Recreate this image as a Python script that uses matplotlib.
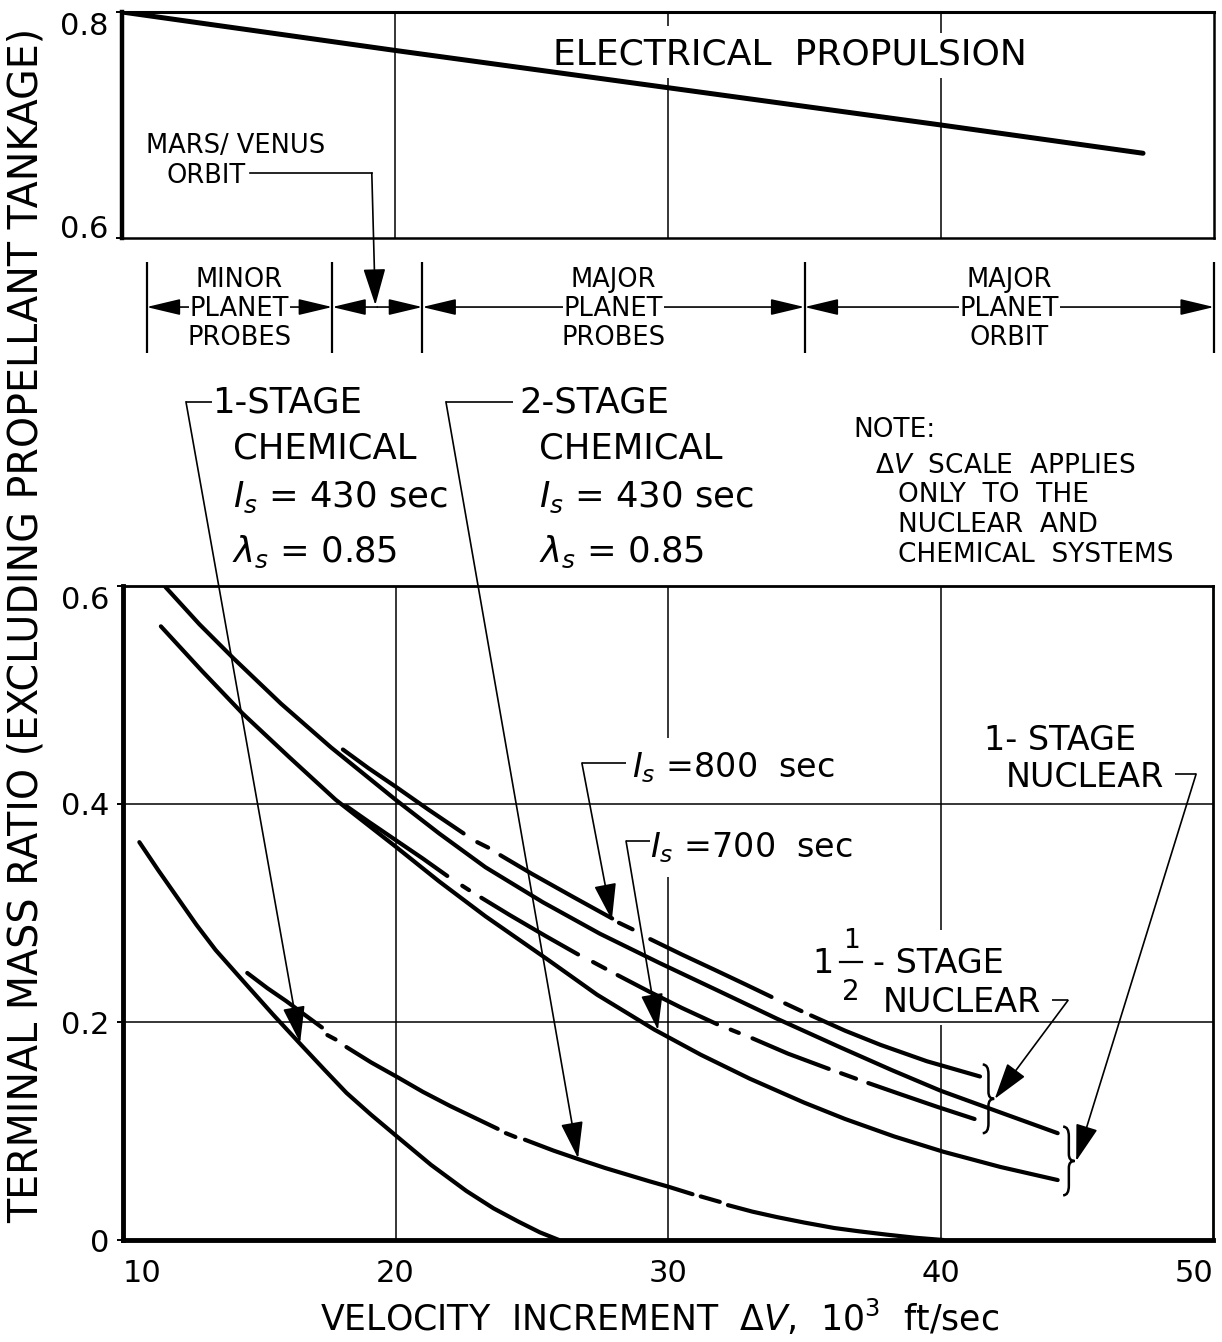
import matplotlib
matplotlib.use("Agg")
import matplotlib.pyplot as plt
import numpy as np
from matplotlib.path import Path
from matplotlib.patches import PathPatch

nan = np.nan

# top panel: electrical propulsion
elec_dv = [10, 20, 30, 40, 47.4]
elec_ratio = [0.800, 0.766, 0.733, 0.700, 0.675]

# mission delta-V bands (10^3 ft/sec)
band_edges = [10.9, 17.7, 21.0, 35.0, 50.0]
band_labels = [["MINOR", "PLANET", "PROBES"], None,
               ["MAJOR", "PLANET", "PROBES"], ["MAJOR", "PLANET", "ORBIT"]]

# 1-stage chemical
chem1_dv = [10.6, 11.3, 12.0, 12.7, 13.4, 14.5, 15.5, 16.5, 17.4, 18.2, 19.1, 20.1,
            21.3, 22.6, 23.6, 24.5, 25.3, 26.0]
chem1_ratio = [0.365, 0.339, 0.314, 0.289, 0.266, 0.235, 0.207, 0.180, 0.156, 0.135, 0.115, 0.094,
               0.069, 0.045, 0.029, 0.017, 0.007, 0.0]

# 2-stage chemical (nan = gap of the dash-dot part)
chem2_dv = [14.56, 15.3, 16.0, 16.7, 17.3, nan, 17.5, 17.8, nan,
            18.2, 19.1, 20.1, 21.0, 22.0, 23.0, 23.75, nan, 24.05, 24.4, nan,
            24.75, 25.8, 26.85, 27.7, 28.5, 29.3, 30.0, 30.9, nan, 31.2, 31.9, nan,
            32.2, 33.1, 34.0, 35.0, 36.1, 37.0, 38.0, 39.1, 40.1]
chem2_ratio = [0.245, 0.231, 0.219, 0.206, 0.195, nan, 0.188, 0.184, nan,
               0.177, 0.163, 0.149, 0.136, 0.123, 0.111, 0.102, nan, 0.098, 0.0945, nan,
               0.092, 0.082, 0.073, 0.066, 0.060, 0.054, 0.049, 0.042, nan, 0.040, 0.035, nan,
               0.032, 0.026, 0.021, 0.016, 0.011, 0.008, 0.005, 0.002, 0.0]

# 1-stage nuclear
nuc1_800_dv = [11.56, 12.8, 14.04, 15.8, 17.63, 20.0, 21.6, 23.3, 25.4, 27.5, 29.7,
               31.9, 34.0, 36.3, 38.2, 40.0, 42.2, 44.3]
nuc1_800_ratio = [0.599, 0.565, 0.534, 0.492, 0.452, 0.404, 0.373, 0.342, 0.310, 0.281, 0.254,
                  0.228, 0.203, 0.177, 0.156, 0.137, 0.117, 0.098]
nuc1_700_dv = [11.39, 12.9, 14.39, 16.1, 17.8, 20.0, 21.6, 23.3, 25.6, 27.4, 29.5, 31.2,
               33.0, 35.0, 36.5, 38.3, 40.1, 42.2, 44.3]
nuc1_700_ratio = [0.563, 0.522, 0.483, 0.443, 0.404, 0.361, 0.329, 0.297, 0.257, 0.225, 0.193, 0.170,
                  0.148, 0.126, 0.111, 0.095, 0.081, 0.067, 0.055]

# 1 1/2-stage nuclear (dash-dot)
nuc15_800_dv = [18.07, 19.0, 20.0, 21.2, 22.5, nan, 23.0, 23.4, nan, 23.85, 25.0, 26.5, 27.95, nan,
                28.2, 28.7, nan, 29.35, 30.5, 31.7, 32.8, 33.8, nan, 34.3, 34.9, nan,
                35.25, 36.5, 37.8, 39.5, 41.45]
nuc15_800_ratio = [0.450, 0.433, 0.416, 0.395, 0.373, nan, 0.365, 0.360, nan, 0.353, 0.336, 0.315, 0.295, nan,
                   0.291, 0.285, nan, 0.276, 0.262, 0.248, 0.235, 0.223, nan, 0.217, 0.210, nan,
                   0.206, 0.192, 0.179, 0.164, 0.150]
nuc15_700_dv = [18.2, 19.0, 20.0, 21.0, 21.9, nan, 22.45, 22.7, nan, 23.15, 24.2, 25.5, 26.7, nan,
                27.25, 27.7, nan, 28.15, 29.3, 30.5, 31.8, nan, 32.3, 32.6, nan, 33.1, 34.4, 35.9, nan,
                36.35, 36.9, nan, 37.35, 38.5, 39.9, 41.25]
nuc15_700_ratio = [0.398, 0.384, 0.367, 0.350, 0.334, nan, 0.325, 0.321, nan, 0.314, 0.298, 0.279, 0.262, nan,
                   0.255, 0.249, nan, 0.243, 0.228, 0.213, 0.198, nan, 0.193, 0.190, nan, 0.185, 0.171, 0.157, nan,
                   0.153, 0.148, nan, 0.144, 0.134, 0.122, 0.111]

x_ticks = [10, 20, 30, 40, 50]
y_ticks = [0, 0.2, 0.4, 0.6]
y_ticks_top = [0.6, 0.8]

plt.rcParams["font.family"] = ["DejaVu Sans"]
plt.rcParams["mathtext.fontset"] = "dejavusans"

BIG = 25.5
MID = 24
SMALL = 19
LW_CURVE = 3.0
LW_THIN = 1.2
ARROW = dict(arrowstyle="-|>,head_length=2.3,head_width=0.7", mutation_scale=10,
             lw=LW_THIN, color="k", shrinkA=0, shrinkB=0)
BAND_ARROW = dict(arrowstyle="-|>,head_length=2.1,head_width=0.5", mutation_scale=10,
                  lw=LW_THIN, color="k", shrinkA=0, shrinkB=0)

fig = plt.figure(figsize=(12.22, 13.42), dpi=100)
ax_top = fig.add_axes([122/1222, 1-238/1342, (1214-122)/1222, 226/1342])
ax = fig.add_axes([123/1222, 1-1240/1342, (1213-123)/1222, 654/1342])


def leader(a, pts, tip):
    """polyline from label then arrow to tip"""
    xs = [p[0] for p in pts]
    ys = [p[1] for p in pts]
    a.plot(xs, ys, color="k", lw=LW_THIN, clip_on=False, solid_capstyle="butt")
    a.annotate("", xy=tip, xytext=pts[-1], arrowprops=ARROW, annotation_clip=False)


def brace(a, x, y0, y1, w):
    ym = (y0 + y1) / 2
    h = y1 - y0
    xm = x + w * 0.5
    verts = [(x, y1), (xm, y1), (xm, y1 - h * 0.14), (xm, ym + h * 0.1), (xm, ym), (x + w, ym),
             (xm, ym), (xm, ym - h * 0.1), (xm, y0 + h * 0.14), (xm, y0), (x, y0)]
    codes = [Path.MOVETO, Path.CURVE3, Path.CURVE3, Path.LINETO, Path.CURVE3, Path.CURVE3,
             Path.CURVE3, Path.CURVE3, Path.LINETO, Path.CURVE3, Path.CURVE3]
    a.add_patch(PathPatch(Path(verts, codes), fill=False, lw=1.8, color="k", clip_on=False))


# ---------------- top panel ----------------
ax_top.set_xlim(10, 50)
ax_top.set_ylim(0.6, 0.8)
# grid, 30 and 40 lines broken behind the title text
ax_top.vlines([20, 30, 30, 40, 40], [0.6, 0.6, 0.788, 0.6, 0.781], [0.8, 0.742, 0.8, 0.742, 0.8],
              color="k", lw=1.1, zorder=1)
ax_top.plot(elec_dv, elec_ratio, color="k", lw=3.6, solid_capstyle="round", zorder=3)
ax_top.text(34.48, 0.7531, "ELECTRICAL  PROPULSION", fontsize=26, ha="center", va="baseline",
            zorder=4)
ax_top.set_xticks([])
ax_top.set_yticks(y_ticks_top)
ax_top.set_yticklabels(["0.6", "0.8"])
tl = ax_top.get_yticklabels()
tl[0].set_va("baseline")
tl[1].set_va("top")
for s, w in zip(["left", "top", "right", "bottom"], [3.2, 2.2, 1.8, 1.8]):
    ax_top.spines[s].set_linewidth(w)

# mars / venus pointer
ax_top.text(14.15, 0.6752, "MARS/ VENUS", fontsize=18.5, ha="center", va="baseline")
ax_top.text(13.07, 0.6487, "ORBIT", fontsize=18.5, ha="center", va="baseline")
ax_top.plot([14.7, 19.15], [0.6575, 0.6575], color="k", lw=LW_THIN, clip_on=False)
ax_top.annotate("", xy=(19.28, 0.5407), xytext=(19.15, 0.6575), arrowprops=ARROW,
                annotation_clip=False)

# mission bands
band_y = 0.5389
ax_top.vlines(band_edges, 0.4982, 0.5788, color="k", lw=1.6, clip_on=False)
for i in range(len(band_edges) - 1):
    a0, a1 = band_edges[i], band_edges[i + 1]
    mid = (a0 + a1) / 2
    ax_top.annotate("", xy=(a0, band_y), xytext=(mid, band_y), arrowprops=BAND_ARROW,
                    annotation_clip=False)
    ax_top.annotate("", xy=(a1, band_y), xytext=(mid, band_y), arrowprops=BAND_ARROW,
                    annotation_clip=False)
    lab = band_labels[i]
    if lab:
        ax_top.text(mid, 0.5566, lab[0], fontsize=18.5, ha="center", va="baseline")
        ax_top.text(mid, 0.5310, lab[1], fontsize=18.5, ha="center", va="baseline", zorder=5,
                    bbox=dict(facecolor="white", edgecolor="none", pad=0.5))
        ax_top.text(mid, 0.5053, lab[2], fontsize=18.5, ha="center", va="baseline")

# ---------------- bottom panel ----------------
ax.set_xlim(10, 50)
ax.set_ylim(0, 0.6)
ax.vlines(20, 0, 0.6, color="k", lw=1.1, zorder=1)
ax.vlines([30, 30, 40, 40], [0, 0.461, 0, 0.284], [0.333, 0.6, 0.197, 0.6],
          color="k", lw=1.1, zorder=1)
ax.hlines([0.2, 0.4], 10, 50, color="k", lw=1.1, zorder=1)

for xs, ys in [(chem1_dv, chem1_ratio), (chem2_dv, chem2_ratio),
               (nuc1_800_dv, nuc1_800_ratio), (nuc1_700_dv, nuc1_700_ratio),
               (nuc15_800_dv, nuc15_800_ratio), (nuc15_700_dv, nuc15_700_ratio)]:
    ax.plot(xs, ys, color="k", lw=LW_CURVE, solid_capstyle="round", zorder=3)

ax.set_xticks(x_ticks)
ax.set_xticklabels([str(v) for v in x_ticks])
ax.set_yticks(y_ticks)
ax.set_yticklabels(["0", "0.2", "0.4", "0.6"])
lbls = ax.get_xticklabels()
lbls[0].set_ha("left")
lbls[-1].set_ha("right")
ax.get_yticklabels()[-1].set_va("top")
for s, w in zip(["left", "top", "right", "bottom"], [3.5, 2.0, 2.0, 3.5]):
    ax.spines[s].set_linewidth(w)

for a in (ax, ax_top):
    a.tick_params(axis="both", length=4, width=1.4, labelsize=22, pad=6)
ax.tick_params(axis="x", length=0, pad=14)

# chemical labels
for x0, num in [(13.27, "1"), (24.53, "2")]:
    ax.text(x0, 0.7596, num + "-STAGE", fontsize=BIG, ha="left", va="baseline", clip_on=False)
    ax.text(x0 + 0.75, 0.7174, "CHEMICAL", fontsize=BIG, ha="left", va="baseline", clip_on=False)
    ax.text(x0 + 0.75, 0.6725, r"$\mathit{I_s}$ = 430 sec", fontsize=BIG, ha="left",
            va="baseline", clip_on=False)
    ax.text(x0 + 0.72, 0.6220, r"$\lambda_s$ = 0.85", fontsize=BIG, ha="left",
            va="baseline", clip_on=False)
leader(ax, [(13.27, 0.769), (12.31, 0.769)], (16.5, 0.181))
leader(ax, [(24.31, 0.769), (21.85, 0.769)], (26.7, 0.075))

# note
note_lines = [(36.79, 0.7367, "NOTE:"), (37.6, 0.7037, r"$\Delta\mathit{V}$  SCALE  APPLIES"),
              (38.45, 0.6771, "ONLY  TO  THE"), (38.45, 0.6495, "NUCLEAR  AND"),
              (38.45, 0.6220, "CHEMICAL  SYSTEMS")]
for x0, y0, s in note_lines:
    ax.text(x0, y0, s, fontsize=SMALL, ha="left", va="baseline", clip_on=False)

# specific impulse pointers
ax.text(28.68, 0.4248, r"$\mathit{I_s}$ =800  sec", fontsize=MID, ha="left", va="baseline")
leader(ax, [(28.46, 0.4376), (26.84, 0.4376)], (27.94, 0.2936))
ax.text(29.34, 0.3514, r"$\mathit{I_s}$ =700  sec", fontsize=MID, ha="left", va="baseline")
leader(ax, [(29.34, 0.366), (28.46, 0.366)], (29.63, 0.1927))

# 1-stage nuclear
ax.text(41.6, 0.4495, "1- STAGE", fontsize=MID, ha="left", va="baseline")
ax.text(42.4, 0.4156, "NUCLEAR", fontsize=MID, ha="left", va="baseline")
brace(ax, 44.5, 0.041, 0.104, 0.42)
leader(ax, [(48.6, 0.4275), (49.38, 0.4275)], (44.98, 0.0725))

# 1 1/2-stage nuclear
ax.text(35.69, 0.245, "1", fontsize=MID, ha="center", va="baseline")
ax.text(36.72, 0.2679, "1", fontsize=19, ha="center", va="baseline")
ax.plot([36.31, 37.12], [0.255, 0.255], color="k", lw=1.6)
ax.text(36.72, 0.2202, "2", fontsize=20, ha="center", va="baseline")
ax.text(37.52, 0.245, "- STAGE", fontsize=MID, ha="left", va="baseline")
ax.text(37.89, 0.2092, "NUCLEAR", fontsize=MID, ha="left", va="baseline")
brace(ax, 41.55, 0.098, 0.161, 0.42)
leader(ax, [(44.1, 0.2199), (44.68, 0.2199)], (41.99, 0.1295))

# axis titles
fig.text(27/1222, 1-625/1342, "TERMINAL MASS RATIO (EXCLUDING PROPELLANT TANKAGE)",
         rotation=90, fontsize=28.5, ha="center", va="center")
fig.text(660/1222, 1-1318/1342, r"VELOCITY  INCREMENT  $\Delta\mathit{V}$,  10$^3$  ft/sec",
         fontsize=25, ha="center", va="center")

fig.savefig("out.png", dpi=100)
